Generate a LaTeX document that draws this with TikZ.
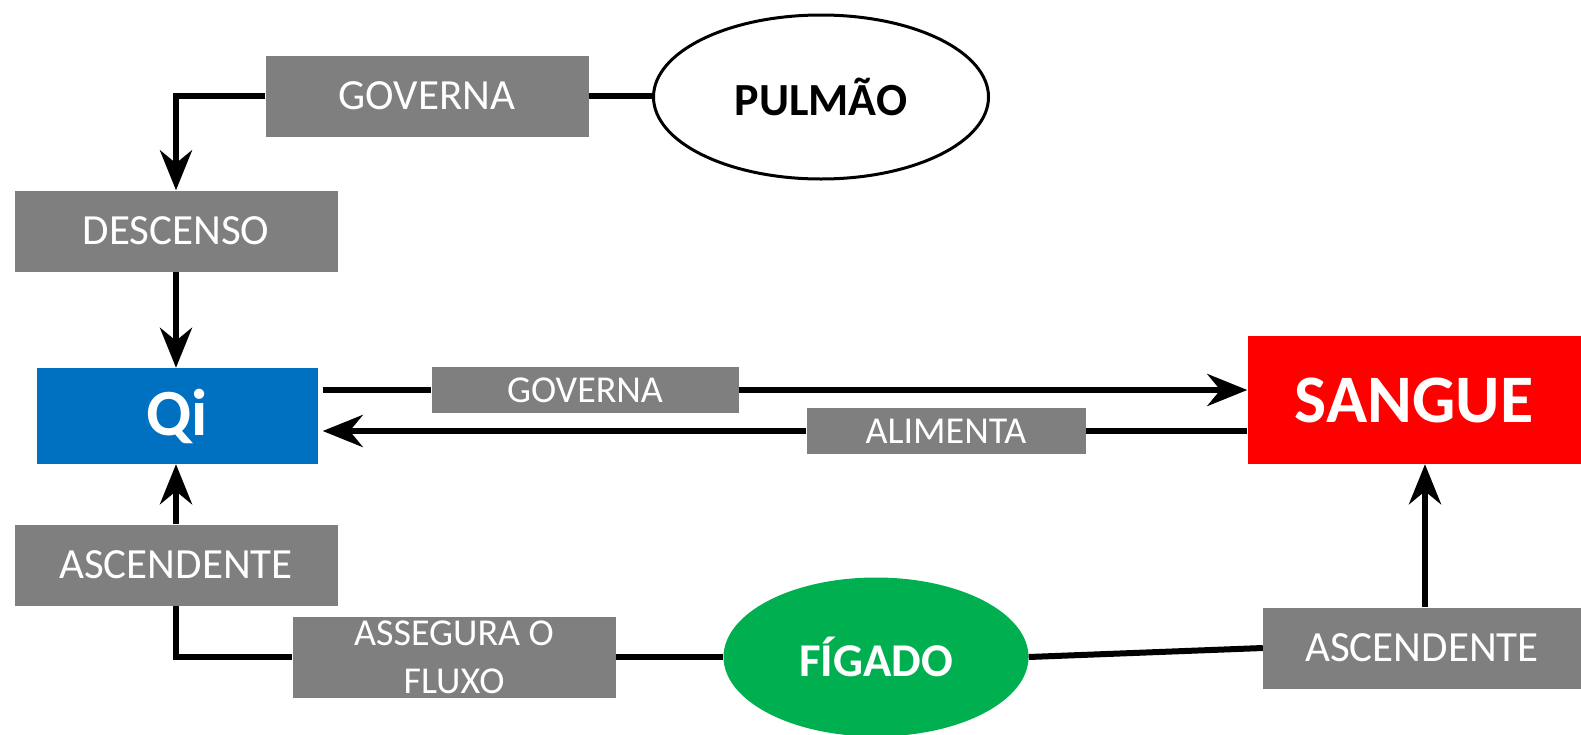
\documentclass[tikz,border=0pt]{standalone}
\usepackage{fontspec}
\setmainfont{Carlito}
\usetikzlibrary{arrows.meta,shapes.geometric}
\definecolor{boxgray}{RGB}{127,127,127}
\definecolor{qiblue}{RGB}{0,112,192}
\definecolor{figgreen}{RGB}{0,176,80}
\begin{document}
\begin{tikzpicture}[x=1pt,y=-1pt,
  graybox/.style={fill=boxgray, text=white, inner sep=0pt, minimum width=323pt, minimum height=81pt, font=\fontsize{43}{48}\selectfont},
  smallbox/.style={graybox, minimum height=46pt, font=\fontsize{38}{46}\selectfont},
  conn/.style={line width=6pt},
  arr/.style={conn, -{Stealth[length=40pt,width=32pt,inset=13pt]}}]
\useasboundingbox (0,0) rectangle (1581,734);

% nodes
\node[graybox] (gov1) at (427,96) {GOVERNA};
\node[ellipse, draw=black, line width=3pt, fill=white, inner sep=0pt, minimum width=335pt, minimum height=164pt, font=\fontsize{46}{50}\selectfont\bfseries] (pul) at (821,97) {PULMÃO};
\node[graybox] (desc) at (176,231) {DESCENSO};
\node[fill=qiblue, text=white, inner sep=0pt, minimum width=281pt, minimum height=96pt, font=\fontsize{66}{70}\selectfont\bfseries] (qi) at (177,416) {Qi};
\node[smallbox, minimum width=307pt] (gov2) at (585,390) {GOVERNA};
\node[smallbox, minimum width=279pt] (ali) at (946,431) {ALIMENTA};
\node[fill=red, text=white, inner sep=0pt, minimum width=333pt, minimum height=128pt, font=\fontsize{68}{72}\selectfont\bfseries] (sangue) at (1414,400) {SANGUE};
\node[graybox] (ascL) at (176,565) {ASCENDENTE};
\node[graybox, align=center, font=\fontsize{38}{48}\selectfont] (ass) at (454,657) {ASSEGURA O\\FLUXO};
\node[ellipse, fill=figgreen, text=white, inner sep=0pt, minimum width=305pt, minimum height=159pt, font=\fontsize{47}{50}\selectfont\bfseries] (fig) at (876,657) {FÍGADO};
\node[graybox, minimum width=318pt] (ascR) at (1422,648) {ASCENDENTE};

% connectors
\draw[conn] (gov1.east) -- (pul.west|-gov1.east);
\draw[arr] (gov1.west) -| (desc.north);
\draw[arr] (desc.south) -- (qi.north-|desc.south);
\draw[conn] (qi.east|-gov2.west) ++(5,0) -- (gov2.west);
\draw[arr] (gov2.east) -- (sangue.west|-gov2.east);
\draw[conn] (sangue.west|-ali.east) -- (ali.east);
\draw[arr] (ali.west) -- ([xshift=5pt]qi.east|-ali.west);
\draw[arr] (ascL.north) -- (qi.south-|ascL.north);
\draw[conn] (ass.west) -| (ascL.south);
\draw[conn] (ass.east) -- (fig.west);
\draw[conn] (fig.east) -- (ascR.west);
\draw[arr] ([xshift=3pt]ascR.north) -- ([xshift=3pt]ascR.north|-sangue.south);
\end{tikzpicture}
\end{document}
